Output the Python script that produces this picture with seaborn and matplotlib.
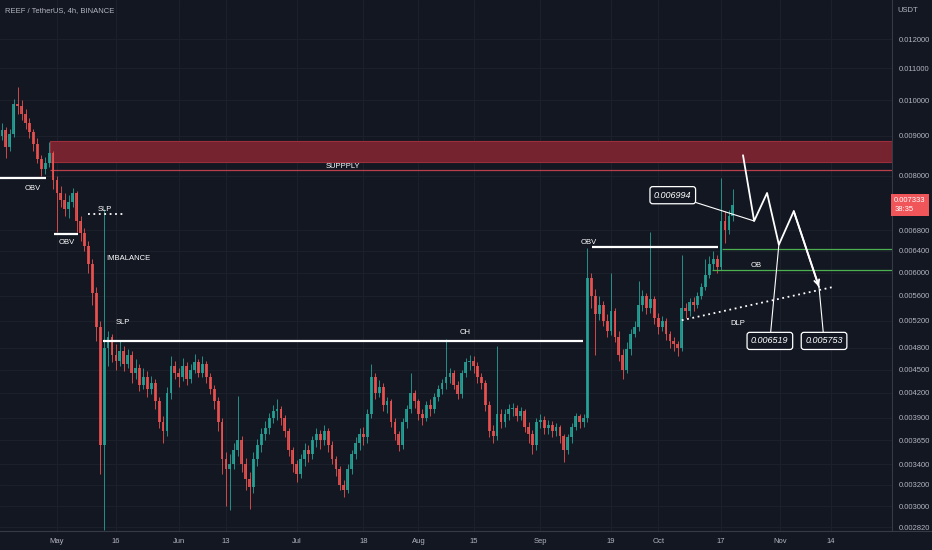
import matplotlib
matplotlib.use("Agg")
import numpy as np
import pandas as pd
import matplotlib.pyplot as plt
import matplotlib.dates as mdates
import matplotlib.transforms as mtransforms
from matplotlib.lines import Line2D
from matplotlib.ticker import NullLocator, FixedLocator, FixedFormatter
import seaborn as sns


OUT_PATH = "out.png"

# daily candles, prices in units of 1e-5 USDT
START_DATE = "2022-04-16"
FIRST_OPEN = 885

close = [
    900, 915, 870, 905, 990, 985, 960, 935, 910, 880,
    840, 815, 830, 855, 790, 760, 745, 725, 740, 760,
    700, 675, 650, 615, 565, 510, 360, 480, 495, 470,
    462, 475, 458, 470, 445, 452, 430, 440, 425, 432,
    410, 385, 375, 420, 455, 445, 440, 455, 438, 450,
    460, 445, 458, 440, 425, 410, 385, 345, 335, 340,
    355, 365, 340, 325, 318, 345, 360, 372, 378, 390,
    398, 400, 390, 375, 355, 340, 330, 345, 355, 350,
    365, 372, 365, 375, 360, 345, 335, 320, 315, 335,
    350, 362, 372, 368, 395, 440, 420, 428, 405, 410,
    385, 372, 360, 385, 400, 420, 410, 395, 390, 405,
    400, 415, 425, 432, 440, 445, 430, 418, 445, 460,
    462, 455, 440, 432, 405, 375, 370, 395, 385, 395,
    400, 402, 392, 398, 380, 372, 360, 385, 388, 378,
    382, 375, 380, 370, 355, 368, 380, 392, 385, 390,
    590, 560, 530, 545, 520, 505, 535, 495, 470, 450,
    478, 500, 510, 545, 560, 540, 555, 525, 510, 520,
    500, 490, 485, 480, 540, 535, 550, 545, 560, 575,
    595, 615, 625, 610, 700, 680, 710, 733,
]

high = [
    930, 935, 925, 920, 1005, 1040, 1000, 975, 950, 920,
    895, 850, 845, 885, 860, 800, 775, 760, 755, 772,
    765, 710, 685, 660, 625, 575, 520, 725, 505, 500,
    485, 490, 482, 478, 475, 465, 458, 452, 448, 442,
    438, 415, 392, 428, 468, 462, 452, 466, 460, 458,
    472, 465, 468, 462, 446, 430, 415, 390, 352, 350,
    362, 416, 370, 346, 332, 352, 366, 378, 386, 396,
    405, 412, 404, 393, 378, 358, 344, 350, 362, 360,
    370, 378, 376, 382, 378, 364, 348, 338, 324, 340,
    355, 368, 378, 380, 400, 458, 445, 436, 432, 415,
    412, 390, 375, 390, 405, 445, 424, 413, 400, 410,
    412, 420, 430, 438, 493, 452, 450, 435, 450, 466,
    470, 468, 460, 445, 436, 410, 382, 482, 400, 400,
    406, 408, 405, 403, 400, 385, 376, 390, 395, 392,
    388, 386, 384, 382, 372, 372, 384, 396, 394, 394,
    646, 600, 572, 560, 552, 530, 600, 540, 505, 478,
    488, 508, 520, 585, 570, 565, 676, 560, 532, 528,
    525, 505, 496, 490, 632, 548, 556, 558, 566, 582,
    625, 630, 640, 632, 795, 720, 722, 770,
]

low = [
    875, 890, 844, 862, 898, 960, 945, 920, 895, 860,
    830, 800, 805, 820, 770, 676, 730, 710, 705, 730,
    676, 660, 640, 600, 545, 490, 330, 280, 455, 460,
    450, 455, 448, 452, 432, 438, 422, 425, 415, 418,
    400, 378, 362, 370, 412, 438, 428, 435, 430, 432,
    445, 440, 440, 432, 418, 400, 375, 330, 300, 297,
    335, 348, 332, 315, 298, 312, 338, 352, 365, 372,
    384, 388, 382, 368, 348, 332, 322, 326, 338, 342,
    345, 358, 356, 360, 352, 340, 328, 315, 308, 312,
    330, 345, 355, 360, 362, 390, 412, 415, 398, 396,
    380, 365, 354, 356, 378, 396, 402, 388, 382, 386,
    392, 396, 410, 418, 425, 432, 425, 412, 414, 440,
    450, 445, 432, 425, 398, 368, 362, 365, 378, 380,
    388, 392, 386, 388, 374, 362, 350, 355, 378, 372,
    372, 368, 370, 362, 342, 350, 362, 376, 378, 380,
    385, 540, 470, 522, 512, 495, 498, 488, 462, 438,
    445, 470, 495, 505, 535, 530, 532, 515, 500, 505,
    492, 480, 476, 468, 475, 525, 528, 535, 540, 555,
    570, 590, 605, 600, 605, 655, 672, 700,
]

LAST_PRICE = 0.007333
COUNTDOWN = "38:35"

# right price scale labels
price_ticks = [0.012, 0.011, 0.010, 0.009, 0.008, 0.0068, 0.0064, 0.0060,
               0.0056, 0.0052, 0.0048, 0.0045, 0.0042, 0.0039, 0.00365,
               0.0034, 0.0032, 0.0030, 0.00282]

# time scale labels
date_ticks = ["2022-05-01", "2022-05-16", "2022-06-01", "2022-06-13",
              "2022-07-01", "2022-07-18", "2022-08-01", "2022-08-15",
              "2022-09-01", "2022-09-19", "2022-10-01", "2022-10-17",
              "2022-11-01", "2022-11-14"]
date_labels = ["May", "16", "Jun", "13", "Jul", "18", "Aug", "15",
               "Sep", "19", "Oct", "17", "Nov", "14"]

# drawings on the chart
supply_start = "2022-04-29 05:00"
supply_zone = [0.00833, 0.00887]
supply_line = 0.00813

obv_levels = [("2022-04-16", "2022-04-28 06:00", 0.00794),
              ("2022-04-30 06:00", "2022-05-06 06:00", 0.00673),
              ("2022-09-14 02:00", "2022-10-16 04:00", 0.00647)]
slp_dotted = ("2022-05-08 22:00", "2022-05-18 08:00", 0.00714)
ch_level = ("2022-05-12 16:00", "2022-09-11 18:00", 0.00490)
ob_levels = [("2022-10-17 05:00", 0.00643), ("2022-10-14 17:00", 0.00604)]
dlp_line = (["2022-10-07 00:00", "2022-11-14 12:00"], [0.00521, 0.00575])

path_dates = ["2022-10-22 14:00", "2022-10-25 10:00", "2022-10-28 17:00",
              "2022-10-31 17:00", "2022-11-04 12:00", "2022-11-10 22:00"]
path_prices = [0.0085, 0.006994, 0.0076, 0.006519, 0.0072, 0.005753]

callouts = [("0.006994", 1, "2022-10-04 17:00", 0.00755),
            ("0.006519", 3, "2022-10-29 10:00", 0.00490),
            ("0.005753", 5, "2022-11-12 05:00", 0.00490)]

chart_labels = [("OBV", "2022-04-24 22:00", 0.00771),
                ("OBV", "2022-05-03 14:00", 0.00657),
                ("SLP", "2022-05-13 05:00", 0.007245),
                ("SLP", "2022-05-17 19:00", 0.00518),
                ("CH", "2022-08-12 19:00", 0.00503),
                ("SUPPPLY", "2022-07-12 19:00", 0.00821),
                ("OBV", "2022-09-13 10:00", 0.00657),
                ("OB", "2022-10-25 22:00", 0.00612),
                ("DLP", "2022-10-21 07:00", 0.005166)]
imbalance_label = ("IMBALANCE", "2022-05-13 12:00", 0.006266)

BG = "#131722"
GRID = "#1c202b"
TEXT = "#b2b5be"
UP = "#26a69a"
DOWN = "#ef5350"


def d(s):
    return mdates.date2num(pd.Timestamp(s))


sns.set_style("dark")
plt.rcParams["font.family"] = ["Liberation Sans", "DejaVu Sans"]

fig = plt.figure(figsize=(9.32, 5.5), dpi=100, facecolor=BG)
ax = fig.add_axes([0, 19 / 550, 892 / 932, 531 / 550])
ax.set_facecolor(BG)

# candles
dates = pd.date_range(START_DATE, periods=len(close), freq="D")
xs = mdates.date2num(dates)
c = np.array(close) * 1e-5
o = np.array([FIRST_OPEN] + close[:-1]) * 1e-5
h = np.array(high) * 1e-5
lo = np.array(low) * 1e-5
up = c >= o

for mask, col in [(up, UP), (~up, DOWN)]:
    ax.vlines(xs[mask], lo[mask], h[mask], color=col, lw=0.7, alpha=0.85, zorder=3)
    ax.bar(xs[mask], np.abs(c[mask] - o[mask]), bottom=np.minimum(c, o)[mask],
           width=0.72, color=col, alpha=0.85, lw=0, zorder=3)

x_left = xs[0] + 0.5
x_right = xs[0] + 227.5
ax.set_yscale("log")
ax.set_xlim(x_left, x_right)
ax.set_ylim(0.002788, 0.013472)

# supply zone
ax.fill_between([d(supply_start), x_right], supply_zone[0], supply_zone[1],
                color="#74232f", ec="#9a2f3b", lw=0.8, zorder=2)
ax.hlines(supply_line, d(supply_start), x_right, color="#b8404b", lw=0.9, zorder=2)

# levels
for a, b, p in obv_levels:
    ax.hlines(p, d(a), d(b), color="white", lw=1.6, zorder=4)
ax.hlines(slp_dotted[2], d(slp_dotted[0]), d(slp_dotted[1]), color="white",
          lw=1.3, linestyles=(0, (1, 2)), zorder=4)
ax.hlines(ch_level[2], d(ch_level[0]), d(ch_level[1]), color="white", lw=1.6, zorder=4)
for a, p in ob_levels:
    ax.hlines(p, d(a), x_right, color="#4caf50", lw=0.9, zorder=4)
ax.plot([d(s) for s in dlp_line[0]], dlp_line[1], color="white", lw=1.3,
        ls=(0, (1, 2)), zorder=4)

# projected path
px = [d(s) for s in path_dates]
sns.lineplot(x=px, y=path_prices, ax=ax, color="white", lw=1.3, sort=False, zorder=5)
ax.annotate("", xy=(px[-1], path_prices[-1]), xytext=(px[-2], path_prices[-2]),
            arrowprops=dict(arrowstyle="->", color="white", lw=1.3,
                            mutation_scale=9, shrinkA=0, shrinkB=0), zorder=5)

for txt, idx, bx, by in callouts:
    ax.annotate(txt, xy=(px[idx], path_prices[idx]), xytext=(d(bx), by),
                ha="center", va="center", color="white", fontsize=6.5,
                fontstyle="italic",
                bbox=dict(boxstyle="round,pad=0.45,rounding_size=0.3", fc=BG,
                          ec="white", lw=0.9),
                arrowprops=dict(arrowstyle="-", color="white", lw=0.8,
                                shrinkA=0, shrinkB=0), zorder=6)

for txt, x, y in chart_labels:
    ax.text(d(x), y, txt, color="white", fontsize=5.5, ha="center",
            va="center", zorder=6)
ax.text(d(imbalance_label[1]), imbalance_label[2], imbalance_label[0],
        color="white", fontsize=5.5, ha="left", va="center", zorder=6)

# axes styling
ax.yaxis.tick_right()
ax.yaxis.set_major_locator(FixedLocator(price_ticks))
ax.yaxis.set_major_formatter(FixedFormatter([f"{p:.6f}" for p in price_ticks]))
ax.yaxis.set_minor_locator(NullLocator())
ax.xaxis.set_major_locator(FixedLocator([d(s) for s in date_ticks]))
ax.xaxis.set_major_formatter(FixedFormatter(date_labels))
ax.tick_params(axis="y", length=0, pad=5, labelsize=5.5, labelcolor=TEXT)
ax.tick_params(axis="x", length=0, pad=5, labelsize=5.5, labelcolor=TEXT)
ax.grid(True, color=GRID, lw=0.8)
ax.set_xlabel("")
ax.set_ylabel("")
for side in ["top", "left"]:
    ax.spines[side].set_visible(False)
for side in ["right", "bottom"]:
    ax.spines[side].set_color("#363a45")
    ax.spines[side].set_linewidth(0.8)
fig.add_artist(Line2D([0, 1], [19 / 550, 19 / 550], color="#363a45", lw=0.8))

# last price tag
trans = mtransforms.blended_transform_factory(ax.transAxes, ax.transData)
ax.text(1.0025, LAST_PRICE, f"{LAST_PRICE:.6f}\n{COUNTDOWN}", transform=trans,
        ha="left", va="center", color="white", fontsize=5.5, linespacing=1.3,
        bbox=dict(boxstyle="square,pad=0.45", fc="#f0555a", ec="none"),
        clip_on=False, zorder=7)

fig.text(5 / 932, 1 - 11 / 550, "REEF / TetherUS, 4h, BINANCE", color=TEXT,
         fontsize=5.5, va="center")
fig.text(897 / 932, 1 - 10 / 550, "USDT", color=TEXT, fontsize=5.5, va="center")

fig.savefig(OUT_PATH, dpi=100, facecolor=BG)
